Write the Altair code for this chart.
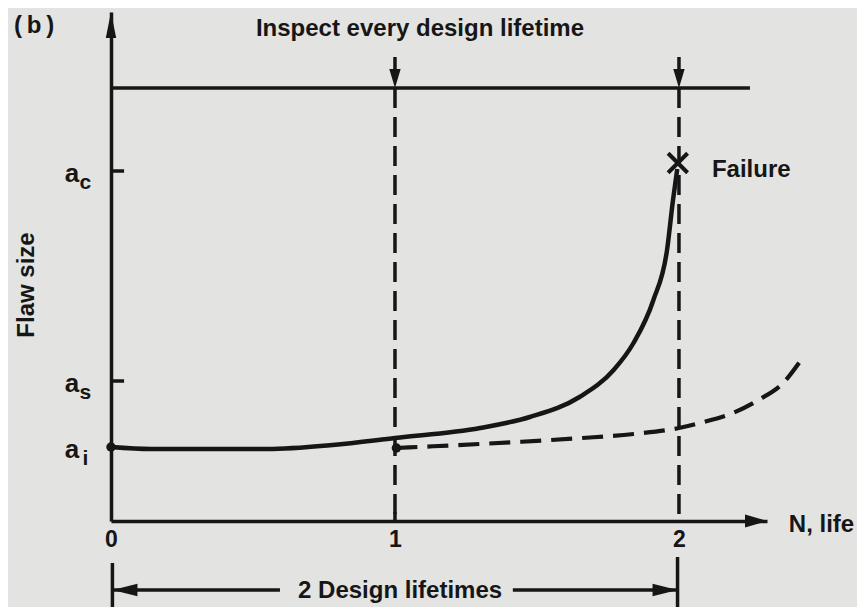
import altair as alt
import pandas as pd

FONT = "Liberation Sans"
INK = "#161616"
BG = "#e3e3e1"

# ---------------- chart values ----------------
x_tick_values = [0, 1, 2]
level_subs = ["i", "s", "c"]
level_values = [0.74, 1.40, 3.50]

# crack growth from initial flaw a_i (solid) and after inspection at 1 lifetime (dashed)
solid_x = [0.0, 0.14, 0.31, 0.55, 0.78, 1.0, 1.30, 1.475, 1.65, 1.77, 1.84, 1.91, 1.958, 1.979, 1.994]
solid_y = [0.74, 0.72, 0.72, 0.72, 0.76, 0.83, 0.93, 1.04, 1.24, 1.51, 1.78, 2.21, 2.71, 3.21, 3.52]

dashed_x = [1.005, 1.08, 1.43, 1.66, 1.84, 2.0, 2.10, 2.19, 2.28, 2.37, 2.43]
dashed_y = [0.73, 0.74, 0.79, 0.83, 0.87, 0.93, 1.00, 1.08, 1.21, 1.39, 1.61]

inspection_x = [1, 2]
inspection_level = [4.33]
top_line_end = [2.25]
dot_x = [0.0, 1.005]
dot_y = [0.74, 0.73]
failure_x = [1.996]
failure_y = [3.58]
span_start_end = [0.005, 1.995]
span_level = [-0.69]

# ---------------- scales / axes ----------------
X_DOMAIN = [0, 2.31]
Y_DOMAIN = [0, 5.09]
xs = alt.Scale(domain=X_DOMAIN, nice=False, zero=False)
ys = alt.Scale(domain=Y_DOMAIN, nice=False, zero=False)
xaxis = alt.Axis(values=x_tick_values, format="d", domain=True, domainColor=INK, domainWidth=3.5,
                 ticks=False, grid=False, labels=True, labelFont=FONT, labelFontSize=23,
                 labelFontWeight="bold", labelColor=INK, labelPadding=7, labelFlush=False,
                 labelOverlap=False, title=None)
yaxis = alt.Axis(domain=True, domainColor=INK, domainWidth=3.5, ticks=False, labels=False,
                 grid=False, title=None)


def enc(x="x", y="y"):
    return dict(x=alt.X(f"{x}:Q", scale=xs, axis=xaxis), y=alt.Y(f"{y}:Q", scale=ys, axis=yaxis))


# ---------------- curves ----------------
solid_df = pd.DataFrame({"x": solid_x, "y": solid_y, "i": range(len(solid_x))})
dashed_df = pd.DataFrame({"x": dashed_x, "y": dashed_y, "i": range(len(dashed_x))})

solid = alt.Chart(solid_df).mark_line(interpolate="monotone", strokeWidth=4.5, color=INK).encode(
    order="i:Q", **enc())
dashed = alt.Chart(dashed_df).mark_line(interpolate="monotone", strokeWidth=4.2, color=INK,
                                        strokeDash=[21, 10]).encode(order="i:Q", **enc())

# ---------------- solid rules ----------------
rx, rx2, ry, ry2 = [], [], [], []
# top inspection line
rx.append(0); rx2.append(top_line_end[0]); ry.append(inspection_level[0]); ry2.append(inspection_level[0])
# arrow stems above the inspection line
for xv in inspection_x:
    rx.append(xv); rx2.append(xv); ry.append(inspection_level[0] + 0.31); ry2.append(inspection_level[0] + 0.1)
# ticks on the y axis for a_s and a_c
for v in level_values[1:]:
    rx.append(0); rx2.append(0.046); ry.append(v); ry2.append(v)
# small tick on x axis at 1
rx.append(1); rx2.append(1); ry.append(0); ry2.append(0.09)
# dimension bars and line
rx += [span_start_end[0], span_start_end[1]]
rx2 += [span_start_end[0], span_start_end[1]]
ry += [-0.42, -0.36]
ry2 += [-0.95, -0.95]
rx += [span_start_end[0], 1.415]
rx2 += [0.595, span_start_end[1]]
ry += [span_level[0], span_level[0]]
ry2 += [span_level[0], span_level[0]]
rules_df = pd.DataFrame({"x": rx, "x2": rx2, "y": ry, "y2": ry2})
rules = alt.Chart(rules_df).mark_rule(strokeWidth=3.5, color=INK).encode(
    x2="x2:Q", y2="y2:Q", **enc())

# ---------------- dashed verticals ----------------
vdf = pd.DataFrame({"x": inspection_x, "y": inspection_level * 2, "y2": [0, 0]})
vlines = alt.Chart(vdf).mark_rule(strokeWidth=3.5, color=INK, strokeDash=[20, 9]).encode(
    y2="y2:Q", **enc())

# ---------------- arrowheads ----------------
SLIM = "M0,0L-0.4,2L0.4,2Z"
MID = "M0,0L-0.5,2L0.5,2Z"
WIDE = "M0,0L-0.6,2L0.6,2Z"
arrows_df = pd.DataFrame({
    "x": [0, X_DOMAIN[1], inspection_x[0], inspection_x[1], span_start_end[0], span_start_end[1]],
    "y": [Y_DOMAIN[1], 0, inspection_level[0], inspection_level[0], span_level[0], span_level[0]],
    "angle": [0, 90, 180, 180, 270, 90],
    "size": [676, 484, 361, 361, 625, 625],
    "shape": [SLIM, WIDE, WIDE, WIDE, MID, MID],
})
arrows = alt.Chart(arrows_df).mark_point(filled=True, opacity=1, color=INK, strokeWidth=0).encode(
    shape=alt.Shape("shape:N", scale=None),
    size=alt.Size("size:Q", scale=None),
    angle=alt.Angle("angle:Q", scale=None),
    **enc())

# ---------------- dots and failure cross ----------------
dots = alt.Chart(pd.DataFrame({"x": dot_x, "y": dot_y})).mark_circle(size=90, opacity=1, color=INK).encode(**enc())
cross = alt.Chart(pd.DataFrame({"x": failure_x, "y": failure_y})).mark_point(
    shape="M-1,-1L1,1M-1,1L1,-1", filled=False, size=380, strokeWidth=4, color=INK, opacity=1
).encode(**enc())

# ---------------- texts ----------------
def text_layer(df, size=24, **kw):
    return alt.Chart(df).mark_text(font=FONT, fontWeight="bold", fontSize=size, color=INK, **kw).encode(
        text="text:N", **enc())


center_texts = pd.DataFrame({
    "x": [1.088, -0.271, 1.018],
    "y": [4.855, 4.88, -0.77],
    "text": ["Inspect every design lifetime", "(\u2009b\u2009)", "2 Design lifetimes"],
})
left_texts = pd.DataFrame({
    "x": [2.116, 2.387],
    "y": [3.44, -0.11],
    "text": ["Failure", "N, life"],
})
ylabel_df = pd.DataFrame({"x": [-0.296], "y": [2.36], "text": ["Flaw size"]})
a_df = pd.DataFrame({"x": [-0.137] * 3, "y": [v - 0.105 for v in level_values], "text": ["a"] * 3})
sub_df = pd.DataFrame({"x": [-0.09] * 3, "y": [v - 0.18 for v in level_values], "text": level_subs})

t1 = text_layer(center_texts, align="center", baseline="alphabetic")
t2 = text_layer(left_texts, align="left", baseline="alphabetic")
t3 = text_layer(ylabel_df, align="center", baseline="middle", angle=270)
t4 = text_layer(a_df, size=26, align="center", baseline="alphabetic")
t5 = text_layer(sub_df, size=21, align="center", baseline="alphabetic")

chart = alt.layer(vlines, rules, solid, dashed, arrows, dots, cross, t1, t2, t3, t4, t5).properties(
    width=656, height=509,
    padding={"left": 103, "top": 4, "right": 90, "bottom": 86},
    autosize=alt.AutoSizeParams(type="none"),
    background=BG,
).configure_view(stroke=None).configure_axisX(
    labelFontSize=23, labelFont=FONT, labelFontWeight="bold", labelColor=INK
)

chart.save("out.html", embed_options={"renderer": "svg", "actions": False})
